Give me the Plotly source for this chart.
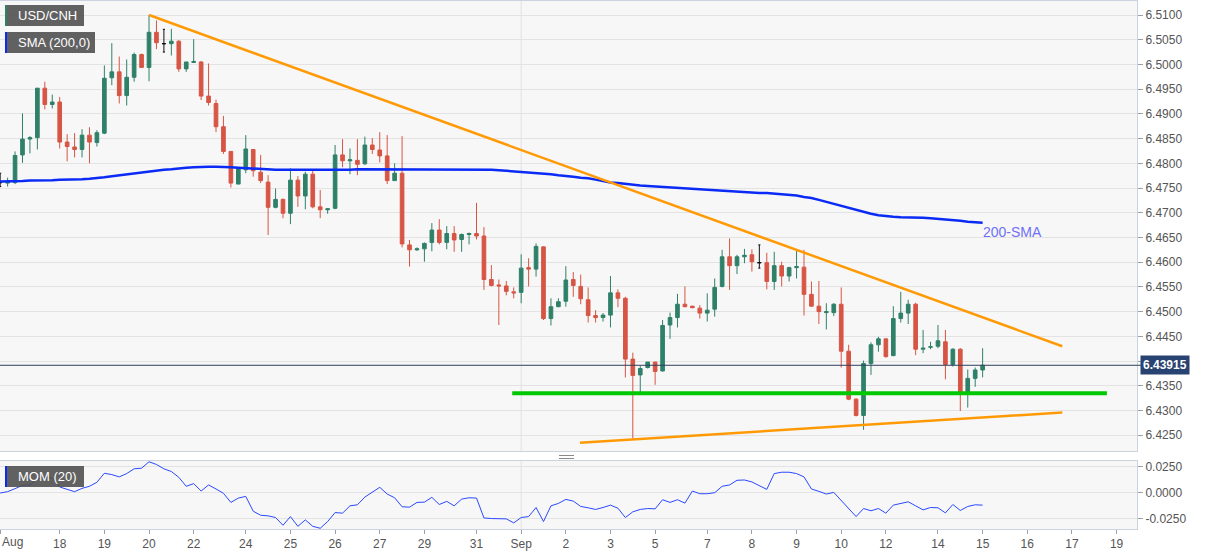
import numpy as np
import plotly.graph_objects as go

# ---------------- data (4H candles, index -1 .. 131) ----------------
opens = [6.4761, 6.4760, 6.4761, 6.4817, 6.4849, 6.4852, 6.4952, 6.4919, 6.4924, 6.4843,
         6.4833, 6.4828, 6.4857, 6.4842, 6.4861, 6.4973, 6.4985, 6.4937, 6.4974, 6.5020,
         6.4994, 6.5065, 6.5042, 6.5042, 6.5047, 6.4991, 6.5004, 6.5005, 6.4936, 6.4921,
         6.4874, 6.4824, 6.4758, 6.4787, 6.4828, 6.4782, 6.4762, 6.4711, 6.4727, 6.4699,
         6.4766, 6.4734, 6.4778, 6.4712, 6.4706, 6.4709, 6.4817, 6.4805, 6.4806, 6.4799,
         6.4837, 6.4827, 6.4815, 6.4765, 6.4780, 6.4635, 6.4625, 6.4627, 6.4640, 6.4665,
         6.4640, 6.4658, 6.4646, 6.4656, 6.4658, 6.4653, 6.4565, 6.4554, 6.4552, 6.4540,
         6.4539, 6.4589, 6.4586, 6.4631, 6.4486, 6.4510, 6.4521, 6.4565, 6.4551, 6.4524,
         6.4492, 6.4488, 6.4493, 6.4538, 6.4527, 6.4404, 6.4372, 6.4387, 6.4398, 6.4380,
         6.4473, 6.4488, 6.4515, 6.4511, 6.4507, 6.4497, 6.4505, 6.4551, 6.4611, 6.4593,
         6.4611, 6.4615, 6.4599, 6.4599, 6.4561, 6.4593, 6.4572, 6.4589, 6.4590, 6.4535,
         6.4511, 6.4498, 6.4498, 6.4515, 6.4420, 6.4323, 6.4290, 6.4395, 6.4433, 6.4445,
         6.4411, 6.4486, 6.4497, 6.4515, 6.4424, 6.4428, 6.4430, 6.4439, 6.4393, 6.4424,
         6.4336, 6.4365, 6.4382]
highs = [6.4780, 6.4771, 6.4824, 6.4901, 6.4855, 6.4952, 6.4965, 6.4939, 6.4934, 6.4859,
         6.4861, 6.4869, 6.4873, 6.4867, 6.4998, 6.5043, 6.5016, 6.5010, 6.5024, 6.5022,
         6.5100, 6.5089, 6.5071, 6.5072, 6.5049, 6.5005, 6.5051, 6.5007, 6.5002, 6.4929,
         6.4896, 6.4824, 6.4790, 6.4857, 6.4828, 6.4817, 6.4776, 6.4749, 6.4729, 6.4790,
         6.4774, 6.4783, 6.4787, 6.4746, 6.4709, 6.4837, 6.4849, 6.4830, 6.4849, 6.4854,
         6.4851, 6.4863, 6.4857, 6.4800, 6.4855, 6.4645, 6.4630, 6.4640, 6.4679, 6.4687,
         6.4673, 6.4673, 6.4658, 6.4660, 6.4720, 6.4671, 6.4594, 6.4565, 6.4562, 6.4549,
         6.4616, 6.4608, 6.4638, 6.4632, 6.4527, 6.4527, 6.4592, 6.4580, 6.4575, 6.4549,
         6.4503, 6.4497, 6.4572, 6.4545, 6.4530, 6.4417, 6.4390, 6.4398, 6.4398, 6.4483,
         6.4498, 6.4536, 6.4551, 6.4512, 6.4513, 6.4537, 6.4567, 6.4625, 6.4648, 6.4615,
         6.4627, 6.4626, 6.4635, 6.4619, 6.4621, 6.4601, 6.4591, 6.4625, 6.4625, 6.4561,
         6.4562, 6.4517, 6.4517, 6.4549, 6.4433, 6.4325, 6.4401, 6.4438, 6.4449, 6.4445,
         6.4511, 6.4540, 6.4524, 6.4518, 6.4463, 6.4439, 6.4473, 6.4463, 6.4426, 6.4426,
         6.4383, 6.4387, 6.4426]
lows = [6.4753, 6.4753, 6.4758, 6.4801, 6.4820, 6.4828, 6.4909, 6.4911, 6.4830, 6.4804,
        6.4812, 6.4812, 6.4800, 6.4834, 6.4859, 6.4958, 6.4921, 6.4917, 6.4965, 6.4993,
        6.4966, 6.5031, 6.5025, 6.5018, 6.4985, 6.4985, 6.5003, 6.4928, 6.4917, 6.4863,
        6.4819, 6.4751, 6.4758, 6.4780, 6.4773, 6.4760, 6.4655, 6.4709, 6.4689, 6.4677,
        6.4712, 6.4707, 6.4709, 6.4689, 6.4698, 6.4707, 6.4792, 6.4778, 6.4776, 6.4797,
        6.4819, 6.4802, 6.4758, 6.4765, 6.4630, 6.4591, 6.4623, 6.4601, 6.4622, 6.4636,
        6.4626, 6.4621, 6.4621, 6.4636, 6.4646, 6.4544, 6.4551, 6.4473, 6.4533, 6.4527,
        6.4517, 6.4551, 6.4571, 6.4483, 6.4472, 6.4509, 6.4510, 6.4530, 6.4515, 6.4478,
        6.4478, 6.4480, 6.4468, 6.4509, 6.4367, 6.4244, 6.4336, 6.4385, 6.4352, 6.4379,
        6.4445, 6.4468, 6.4509, 6.4507, 6.4486, 6.4480, 6.4490, 6.4549, 6.4544, 6.4576,
        6.4598, 6.4581, 6.4588, 6.4545, 6.4544, 6.4551, 6.4561, 6.4567, 6.4492, 6.4510,
        6.4475, 6.4464, 6.4491, 6.4387, 6.4321, 6.4288, 6.4261, 6.4372, 6.4419, 6.4407,
        6.4410, 6.4478, 6.4475, 6.4412, 6.4416, 6.4424, 6.4426, 6.4363, 6.4389, 6.4299,
        6.4306, 6.4348, 6.4367]
closes = [6.4761, 6.4763, 6.4816, 6.4849, 6.4852, 6.4952, 6.4919, 6.4924, 6.4843, 6.4834,
          6.4828, 6.4857, 6.4843, 6.4862, 6.4972, 6.4985, 6.4937, 6.4974, 6.5020, 6.4994,
          6.5065, 6.5044, 6.5042, 6.5047, 6.4991, 6.5005, 6.5006, 6.4936, 6.4923, 6.4874,
          6.4824, 6.4760, 6.4790, 6.4829, 6.4785, 6.4765, 6.4711, 6.4727, 6.4699, 6.4766,
          6.4734, 6.4778, 6.4712, 6.4706, 6.4708, 6.4817, 6.4805, 6.4807, 6.4798, 6.4837,
          6.4828, 6.4815, 6.4765, 6.4780, 6.4637, 6.4625, 6.4627, 6.4638, 6.4665, 6.4640,
          6.4658, 6.4645, 6.4656, 6.4658, 6.4653, 6.4565, 6.4553, 6.4552, 6.4541, 6.4538,
          6.4588, 6.4586, 6.4632, 6.4486, 6.4510, 6.4520, 6.4564, 6.4553, 6.4526, 6.4492,
          6.4488, 6.4493, 6.4538, 6.4527, 6.4404, 6.4371, 6.4385, 6.4398, 6.4379, 6.4472,
          6.4488, 6.4515, 6.4510, 6.4508, 6.4497, 6.4503, 6.4549, 6.4611, 6.4593, 6.4611,
          6.4614, 6.4601, 6.4599, 6.4561, 6.4593, 6.4572, 6.4589, 6.4591, 6.4535, 6.4511,
          6.4500, 6.4500, 6.4515, 6.4420, 6.4323, 6.4290, 6.4395, 6.4433, 6.4445, 6.4409,
          6.4486, 6.4497, 6.4515, 6.4424, 6.4426, 6.4429, 6.4441, 6.4393, 6.4424, 6.4336,
          6.4365, 6.4382, 6.43915]

sma200 = [6.4763, 6.4763, 6.4764, 6.4764, 6.4765, 6.4765, 6.4766, 6.4766, 6.4767, 6.4767,
          6.4768, 6.4768, 6.4769, 6.4770, 6.4772, 6.4774, 6.4776, 6.4778, 6.4779, 6.4781, 6.4783, 6.4785,
          6.4787, 6.4788, 6.4790, 6.4791, 6.4792, 6.4793, 6.4793, 6.4793, 6.4793, 6.4792, 6.4791, 6.4790,
          6.4789, 6.4788, 6.4787,
          6.4787, 6.4787, 6.4787, 6.4786, 6.4786, 6.4787, 6.4787, 6.4787, 6.4787, 6.4787, 6.4787, 6.4788,
          6.4788, 6.4787, 6.4787, 6.4787, 6.4787, 6.4787, 6.4787, 6.4787, 6.4788, 6.4788, 6.4788, 6.4788,
          6.4788, 6.4787, 6.4787, 6.4787, 6.4787, 6.4787,
          6.4786, 6.4785, 6.4784, 6.4783, 6.4782, 6.4781, 6.4779, 6.4778, 6.4776, 6.4775, 6.4773, 6.4771,
          6.4770, 6.4767, 6.4764, 6.4761, 6.4760, 6.4758, 6.4757, 6.4755, 6.4754, 6.4753, 6.4752, 6.4751,
          6.4750, 6.4749, 6.4748, 6.4747, 6.4746, 6.4745, 6.4744, 6.4743, 6.4742, 6.4741, 6.4741, 6.4740,
          6.4740, 6.4739, 6.4738, 6.4737, 6.4735, 6.4732, 6.4730, 6.4726, 6.4722, 6.4718, 6.4714, 6.4710,
          6.4705, 6.4701, 6.4698, 6.4695, 6.4693, 6.4692, 6.4691, 6.4691, 6.4690, 6.4690, 6.4689, 6.4688,
          6.4687, 6.4685, 6.4684, 6.4682, 6.4681, 6.4680]

mom20 = [-0.0003, 0.0010, 0.0039, 0.0071, 0.0075, 0.0133, 0.0149, 0.0143, 0.0055, 0.0036,
         0.0010, 0.0042, 0.0062, 0.0101, 0.0188, 0.0175, 0.0153, 0.0185, 0.0231, 0.0237,
         0.0299, 0.0273, 0.0231, 0.0205, 0.0149, 0.0062, 0.0088, 0.0016, 0.0075, 0.0036,
         -0.0006, -0.0094, -0.0052, -0.0036, -0.0179, -0.0218, -0.0224, -0.0240, -0.0315, -0.0231,
         -0.0325, -0.0263, -0.0325, -0.0344, -0.0279, -0.0192, -0.0198, -0.0127, -0.0117, -0.0042,
         0.0003, 0.0052, -0.0013, -0.0049, -0.0136, -0.0140, -0.0094, -0.0091, -0.0045, -0.0114,
         -0.0084, -0.0127, -0.0062, -0.0049, -0.0052, -0.0244, -0.0250, -0.0253, -0.0253, -0.0292,
         -0.0240, -0.0231, -0.0143, -0.0279, -0.0127, -0.0104, -0.0065, -0.0081, -0.0133, -0.0146,
         -0.0162, -0.0143, -0.0120, -0.0150, -0.0240, -0.0185, -0.0162, -0.0153, -0.0156, -0.0068,
         -0.0094, -0.0068, -0.0101, 0.0016, -0.0010, -0.0010, 0.0000, 0.0062, 0.0075, 0.0120,
         0.0123, 0.0104, 0.0068, 0.0032, 0.0185, 0.0198, 0.0198, 0.0185, 0.0153, 0.0036,
         0.0013, -0.0013, 0.0003, -0.0075, -0.0153, -0.0231, -0.0153, -0.0175, -0.0153, -0.0198,
         -0.0120, -0.0101, -0.0088, -0.0127, -0.0166, -0.0143, -0.0146, -0.0195, -0.0114, -0.0172,
         -0.0133, -0.0117, -0.0120]

first_index = -1
last_price = 6.43915

# drawn levels (candle index, price)
resistance_x = [19, 141.7]
resistance_y = [6.5100, 6.4430]
support_x = [76.9, 141.7]
support_y = [6.4235, 6.4296]
level_x = [67.8, 147.7]
level_y = [6.4335, 6.4335]

tick_index = [-1, 7, 13, 19, 25, 32, 38, 44, 50, 56, 63, 69, 75, 81, 87, 94, 100, 106, 112,
              118, 125, 131, 137, 143, 149]
tick_text = ["Aug", "18", "19", "20", "22", "24", "25", "26", "27", "29", "31", "Sep", "2", "3",
             "5", "7", "8", "9", "10", "12", "14", "15", "16", "17", "19"]
month_start_index = 69

price_ticks = [6.4250, 6.4300, 6.4350, 6.4400, 6.4450, 6.4500, 6.4550, 6.4600, 6.4650, 6.4700,
               6.4750, 6.4800, 6.4850, 6.4900, 6.4950, 6.5000, 6.5050, 6.5100]
price_tick_text = ["6.4250", "6.4300", "6.4350", "", "6.4450", "6.4500", "6.4550", "6.4600",
                   "6.4650", "6.4700", "6.4750", "6.4800", "6.4850", "6.4900", "6.4950",
                   "6.5000", "6.5050", "6.5100"]  # 6.4400 is hidden under the price label
mom_ticks = [-0.025, 0.0, 0.025]
mom_tick_text = ["-0.0250", "0.0000", "0.0250"]

# ---------------- figure ----------------
W, H = 1207, 555
ML, MR, MT, MB = 0, 70, 1, 26
PW = W - ML - MR
PH = H - MT - MB


def px_x(p):
    return (p - ML) / PW


def px_y(p):
    return (H - MB - p) / PH


x = np.arange(len(opens)) + first_index
o = np.array(opens); h = np.array(highs); l = np.array(lows); c = np.array(closes)
doji = np.isclose(o, c)
reg = ~doji

GREEN = "#2f8069"
RED = "#d75544"
FONT = "Liberation Sans, Arial, sans-serif"

fig = go.Figure()
fig.add_trace(go.Candlestick(
    x=x[reg], open=o[reg], high=h[reg], low=l[reg], close=c[reg],
    increasing=dict(line=dict(color=GREEN, width=1), fillcolor=GREEN),
    decreasing=dict(line=dict(color=RED, width=1), fillcolor=RED),
    whiskerwidth=0, showlegend=False, xaxis="x", yaxis="y"))
fig.add_trace(go.Candlestick(
    x=x[doji], open=o[doji], high=h[doji], low=l[doji], close=c[doji],
    increasing=dict(line=dict(color="#111111", width=1), fillcolor="#111111"),
    decreasing=dict(line=dict(color="#111111", width=1), fillcolor="#111111"),
    whiskerwidth=0.6, showlegend=False, xaxis="x", yaxis="y"))
fig.add_trace(go.Scatter(x=x, y=sma200, mode="lines", line=dict(color="#0a2af5", width=2.5),
                         showlegend=False, xaxis="x", yaxis="y"))
fig.add_trace(go.Scatter(x=resistance_x, y=resistance_y, mode="lines",
                         line=dict(color="#ff9a05", width=2.5), showlegend=False))
fig.add_trace(go.Scatter(x=support_x, y=support_y, mode="lines",
                         line=dict(color="#ff9a05", width=2.5), showlegend=False))
fig.add_trace(go.Scatter(x=level_x, y=level_y, mode="lines",
                         line=dict(color="#00c800", width=4), showlegend=False))
fig.add_trace(go.Scatter(x=x, y=mom20, mode="lines", line=dict(color="#2a48ff", width=1),
                         showlegend=False, xaxis="x2", yaxis="y2"))

xr = [(0 - 7.6) / 7.443, (PW - 7.6) / 7.443]
main_dom = [px_y(451), 1]
mom_dom = [0, px_y(461)]
yr_main = [6.51 - (451 - 15) / 4944, 6.51 + (15 - 1) / 4944]
yr_mom = [-(529 - 492.7) / 1034, (492.7 - 461) / 1034]

LINE = "#cbd2e0"
GRID = "#e3e3e3"
TICKF = dict(family=FONT, size=12, color="#555555")

fig.update_layout(
    width=W, height=H, margin=dict(l=ML, r=MR, t=MT, b=MB),
    paper_bgcolor="white", plot_bgcolor="#f7f7f7",
    font=dict(family=FONT),
    xaxis=dict(domain=[0, 1], anchor="y", range=xr, showticklabels=False, showgrid=False,
               zeroline=False, showline=True, mirror=True, linecolor=LINE,
               rangeslider=dict(visible=False), ticks=""),
    yaxis=dict(domain=main_dom, anchor="x", range=yr_main, side="right", tickmode="array",
               tickvals=price_ticks, ticktext=price_tick_text, showgrid=True, gridcolor=GRID,
               zeroline=False, ticks="outside", ticklen=5, tickcolor="#9aa0aa", showline=True,
               mirror=True, linecolor=LINE, tickfont=TICKF),
    xaxis2=dict(domain=[0, 1], anchor="y2", range=xr, matches="x", tickmode="array",
                tickvals=tick_index, ticktext=[""] + tick_text[1:], showgrid=False,
                zeroline=False, ticks="outside", ticklen=4, tickcolor="#9aa0aa",
                showline=True, mirror=True, linecolor=LINE, tickfont=TICKF,
                rangeslider=dict(visible=False)),
    yaxis2=dict(domain=mom_dom, anchor="x2", range=yr_mom, side="right", tickmode="array",
                tickvals=mom_ticks, ticktext=mom_tick_text,
                showgrid=True, gridcolor=GRID, zeroline=False, ticks="outside", ticklen=5,
                tickcolor="#9aa0aa", showline=True, mirror=True, linecolor=LINE,
                tickfont=TICKF),
)

shapes = []
# month separator
shapes.append(dict(type="line", xref="x", yref="y domain", x0=month_start_index,
                   x1=month_start_index, y0=0, y1=1, line=dict(color="#e0e0e0", width=1),
                   layer="below"))
shapes.append(dict(type="line", xref="x2", yref="y2 domain", x0=month_start_index,
                   x1=month_start_index, y0=0, y1=1, line=dict(color="#e0e0e0", width=1),
                   layer="below"))
# last price line
shapes.append(dict(type="line", xref="paper", yref="y", x0=0, x1=px_x(1141), y0=last_price,
                   y1=last_price, line=dict(color="#2e3f5e", width=1)))
# panel handle
for yy in (455.5, 458.5):
    shapes.append(dict(type="line", xref="paper", yref="paper", x0=px_x(559), x1=px_x(574),
                       y0=px_y(yy), y1=px_y(yy), line=dict(color="#8a8a8a", width=1)))

# label boxes
boxes = [
    (5, 84, 5, 26, "#2f8069", "USD/CNH"),
    (5, 95, 32, 53, "#0a2af5", "SMA (200,0)"),
    (5, 84, 466, 487, "#0a2af5", "MOM (20)"),
]
annotations = []
for x0, x1, y0, y1, stripe, txt in boxes:
    shapes.append(dict(type="rect", xref="paper", yref="paper", x0=px_x(x0), x1=px_x(x1),
                       y0=px_y(y1), y1=px_y(y0), fillcolor="rgba(80,80,80,0.9)",
                       line=dict(width=0)))
    shapes.append(dict(type="rect", xref="paper", yref="paper", x0=px_x(x0), x1=px_x(x0 + 2),
                       y0=px_y(y1), y1=px_y(y0), fillcolor=stripe, line=dict(width=0)))
    annotations.append(dict(xref="paper", yref="paper", x=px_x(16), y=px_y((y0 + y1) / 2),
                            xanchor="left", yanchor="middle", text=txt, showarrow=False,
                            font=dict(family=FONT, size=13, color="white")))

annotations.append(dict(xref="x", yref="y", x=130.8, y=6.4661, xanchor="left",
                        yanchor="middle", text="200-SMA", showarrow=False,
                        font=dict(family=FONT, size=14, color="#6f6ff7")))
annotations.append(dict(xref="paper", yref="y", x=px_x(1140), y=last_price, xanchor="left",
                        yanchor="middle", text="<b>6.43915</b>", showarrow=False,
                        bgcolor="#284272", borderpad=2,
                        font=dict(family=FONT, size=12, color="white")))
annotations.append(dict(xref="paper", yref="paper", x=0, y=px_y(542), xanchor="left",
                        yanchor="middle", text=tick_text[0], showarrow=False,
                        font=TICKF))

fig.update_layout(shapes=shapes, annotations=annotations)
fig.write_html("out.html")
